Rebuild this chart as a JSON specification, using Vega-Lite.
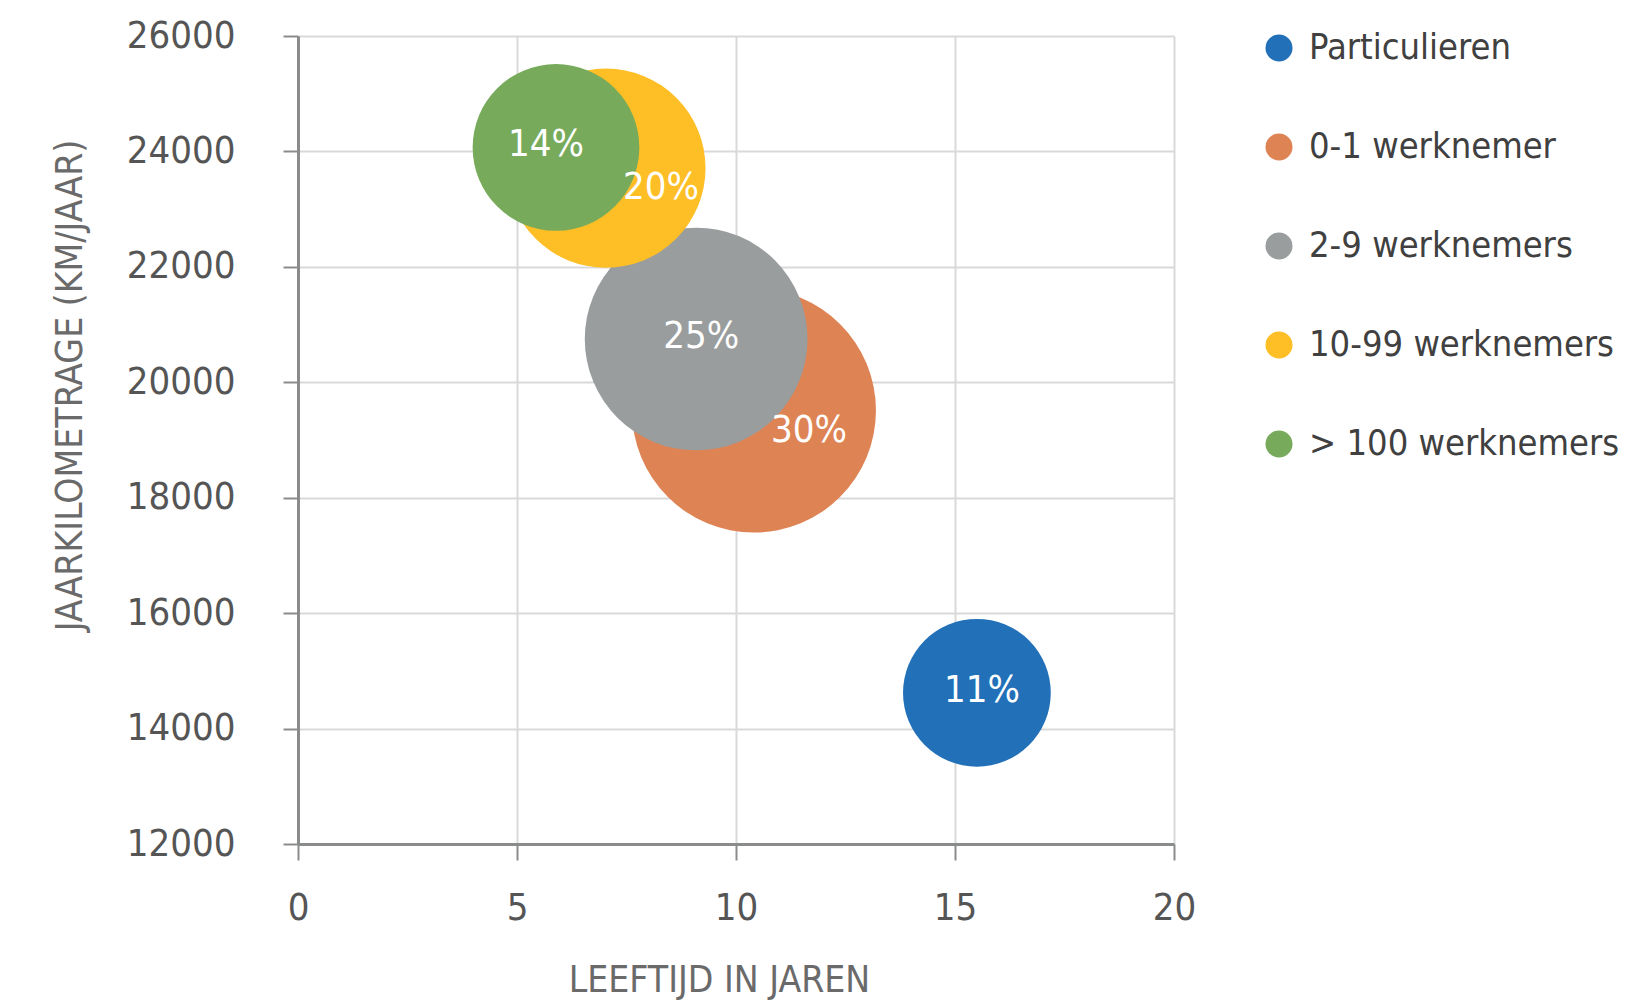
{
  "$schema": "https://vega.github.io/schema/vega-lite/v6.json",
  "width": 876,
  "height": 808,
  "autosize": {"type": "none"},
  "padding": {"left": 298, "top": 36, "right": 460, "bottom": 156},
  "background": "white",
  "config": {
    "font": "DejaVu Sans Condensed, DejaVu Sans, sans-serif",
    "view": {"stroke": null}
  },
  "data": {
    "values": [
      {"groep": "Particulieren", "leeftijd": 15.5, "km": 14620, "aandeel": 11, "label": "11%"},
      {"groep": "0-1 werknemer", "leeftijd": 10.41, "km": 19510, "aandeel": 30, "label": "30%"},
      {"groep": "2-9 werknemers", "leeftijd": 9.09, "km": 20750, "aandeel": 25, "label": "25%"},
      {"groep": "10-99 werknemers", "leeftijd": 7.03, "km": 23710, "aandeel": 20, "label": "20%"},
      {"groep": "> 100 werknemers", "leeftijd": 5.89, "km": 24070, "aandeel": 14, "label": "14%"}
    ]
  },
  "encoding": {
    "x": {
      "field": "leeftijd", "type": "quantitative",
      "scale": {"domain": [0, 20], "nice": false},
      "axis": {
        "title": "LEEFTIJD IN JAREN",
        "values": [0, 5, 10, 15, 20],
        "grid": true, "gridColor": "#d9d9d9", "gridWidth": 2,
        "domainColor": "#8a8c8c", "domainWidth": 3,
        "tickColor": "#8a8c8c", "tickWidth": 2, "tickSize": 16,
        "labelFontSize": 38, "labelColor": "#555555", "labelPadding": 29,
        "labelFlush": false,
        "titleFontSize": 37, "titleFontWeight": "normal", "titleColor": "#6a6a6a",
        "titlePadding": 35, "titleX": 421
      }
    },
    "y": {
      "field": "km", "type": "quantitative",
      "scale": {"domain": [12000, 26000], "nice": false, "zero": false},
      "axis": {
        "title": "JAARKILOMETRAGE (KM/JAAR)",
        "values": [12000, 14000, 16000, 18000, 20000, 22000, 24000, 26000],
        "format": "d",
        "grid": true, "gridColor": "#d9d9d9", "gridWidth": 2,
        "domainColor": "#8a8c8c", "domainWidth": 3,
        "tickColor": "#8a8c8c", "tickWidth": 2, "tickSize": 15,
        "labelFontSize": 38, "labelColor": "#555555", "labelPadding": 48,
        "labelFlush": false,
        "titleFontSize": 37, "titleFontWeight": "normal", "titleColor": "#6a6a6a",
        "titleAngle": -90, "titleX": -228, "titleY": 349,
        "titleAlign": "center", "titleBaseline": "middle"
      }
    }
  },
  "layer": [
    {
      "mark": {"type": "circle", "opacity": 1},
      "encoding": {
        "size": {
          "field": "aandeel", "type": "quantitative",
          "scale": {"domain": [0, 30], "range": [0, 59536]},
          "legend": null
        },
        "color": {
          "field": "groep", "type": "nominal",
          "scale": {
            "domain": ["Particulieren", "0-1 werknemer", "2-9 werknemers", "10-99 werknemers", "> 100 werknemers"],
            "range": ["#2170b8", "#de8354", "#9a9d9e", "#fdbe26", "#77ab5b"]
          },
          "legend": {
            "title": null,
            "orient": "none",
            "legendX": 963,
            "legendY": -6,
            "padding": 0,
            "symbolType": "circle",
            "symbolSize": 729,
            "symbolStrokeWidth": 0,
            "labelFontSize": 36,
            "labelColor": "#404040",
            "labelOffset": 12,
            "labelLimit": 400,
            "rowPadding": 63
          }
        }
      }
    },
    {
      "transform": [{"filter": {"field": "groep", "oneOf": ["Particulieren", "2-9 werknemers"]}}],
      "mark": {"type": "text", "color": "white", "fontSize": 38, "baseline": "middle", "align": "center", "dx": 5, "dy": -2},
      "encoding": {"text": {"field": "label"}}
    },
    {
      "transform": [{"filter": {"field": "groep", "oneOf": ["> 100 werknemers"]}}],
      "mark": {"type": "text", "color": "white", "fontSize": 38, "baseline": "middle", "align": "center", "dx": -10, "dy": -2},
      "encoding": {"text": {"field": "label"}}
    },
    {
      "transform": [{"filter": {"field": "groep", "oneOf": ["10-99 werknemers", "0-1 werknemer"]}}],
      "mark": {"type": "text", "color": "white", "fontSize": 38, "baseline": "middle", "align": "center", "dx": 55, "dy": 20},
      "encoding": {"text": {"field": "label"}}
    }
  ]
}
